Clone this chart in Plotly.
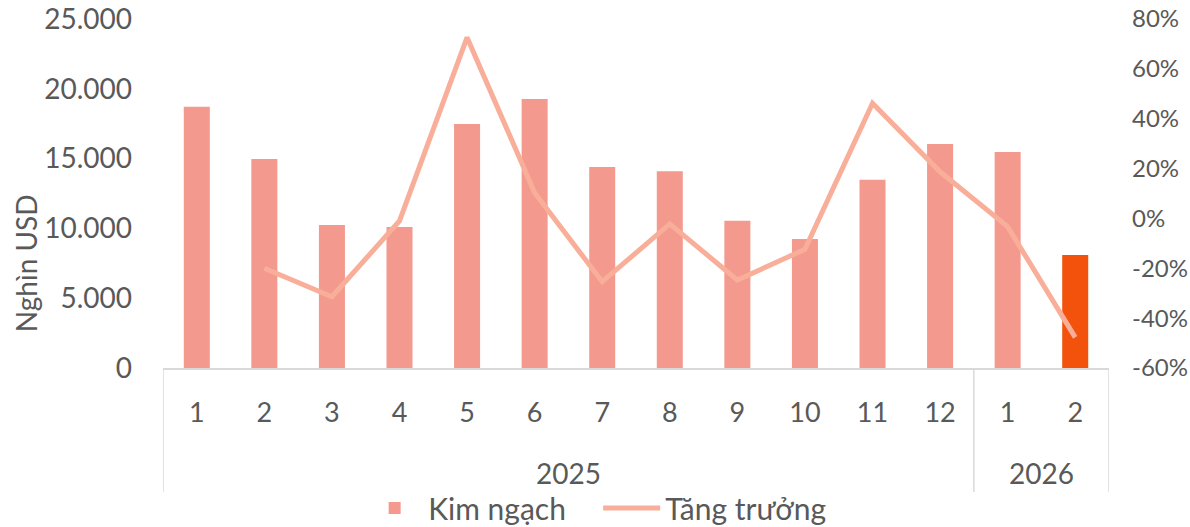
import plotly.graph_objects as go

years = ["2025"] * 12 + ["2026"] * 2
months = ["1", "2", "3", "4", "5", "6", "7", "8", "9", "10", "11", "12", "1", "2"]
kim_ngach = [18720, 14970, 10240, 10100, 17480, 19270, 14400, 14090,
             10550, 9240, 13490, 16050, 15470, 8090]
tang_truong = [None, -0.200, -0.314, -0.010, 0.726, 0.103, -0.254, -0.022,
               -0.247, -0.124, 0.462, 0.187, -0.033, -0.477]
pct_ticks = [-0.6, -0.4, -0.2, 0.0, 0.2, 0.4, 0.6, 0.8]

bar_colors = ["#F3998E"] * 13 + ["#F2520C"]
font_family = "Lato, 'Open Sans', sans-serif"
grey = "#595959"
line_grey = "#D9D9D9"
fs = 28

xs = list(range(len(months)))

fig = go.Figure()
fig.add_trace(go.Bar(
    x=xs, y=kim_ngach, name="Kim ngạch",
    marker=dict(color=bar_colors, line=dict(width=0)),
))
fig.add_trace(go.Scatter(
    x=xs, y=tang_truong, name="Tăng trưởng", yaxis="y2",
    mode="lines", line=dict(color="#F8AE99", width=5),
))

# year groups: labels centred under their months, dividers at group edges
groups = []
for i, yr in enumerate(years):
    if not groups or groups[-1][0] != yr:
        groups.append([yr, i, i])
    else:
        groups[-1][2] = i

edges = sorted({g[1] - 0.5 for g in groups} | {g[2] + 0.5 for g in groups})
for e in edges:
    fig.add_shape(type="line", xref="x", yref="paper", x0=e, x1=e, y0=0, y1=-0.355,
                  line=dict(color=line_grey, width=1.5))
for yr, a, b in groups:
    fig.add_annotation(text=yr, xref="x", yref="paper", x=(a + b) / 2, y=-0.301,
                       yanchor="middle", showarrow=False,
                       font=dict(size=fs, color=grey, family=font_family))

# axis title sits lower than the plot centre, as in the original
fig.add_annotation(text="Nghìn USD", xref="paper", yref="paper", x=-0.145, y=0.30,
                   textangle=-90, showarrow=False, xanchor="center", yanchor="middle",
                   font=dict(size=fs, color=grey, family=font_family))

fig.update_layout(
    width=1190, height=527,
    margin=dict(l=163, r=81, t=19, b=159),
    paper_bgcolor="white", plot_bgcolor="white",
    separators=",.",
    bargap=0.615,
    font=dict(family=font_family, size=fs, color=grey),
    showlegend=True,
    legend=dict(orientation="h", x=0.46, xanchor="center", yref="container",
                y=0.036, yanchor="middle", itemwidth=57, entrywidth=165,
                font=dict(size=30, color=grey)),
    xaxis=dict(
        range=[-0.5, len(months) - 0.5], tickvals=xs, ticktext=months,
        showline=True, linecolor=line_grey, linewidth=1.5,
        showgrid=False, zeroline=False, ticks="", ticklabelstandoff=20,
        automargin=False, tickfont=dict(size=27),
    ),
    yaxis=dict(
        range=[0, 25000], dtick=5000, tickformat=",d", showgrid=False,
        zeroline=False, showline=False, automargin=False,
        ticklabelstandoff=30,
    ),
    yaxis2=dict(
        overlaying="y", side="right", range=[-0.6, 0.8],
        tickvals=pct_ticks, ticktext=[f"{v:.0%}" for v in pct_ticks],
        showgrid=False, zeroline=False, showline=False,
        ticklabelstandoff=22, automargin=False, tickfont=dict(size=24),
    ),
)

fig.write_html("out.html", config={"displayModeBar": False},
               post_script="document.body.style.margin='0';")
